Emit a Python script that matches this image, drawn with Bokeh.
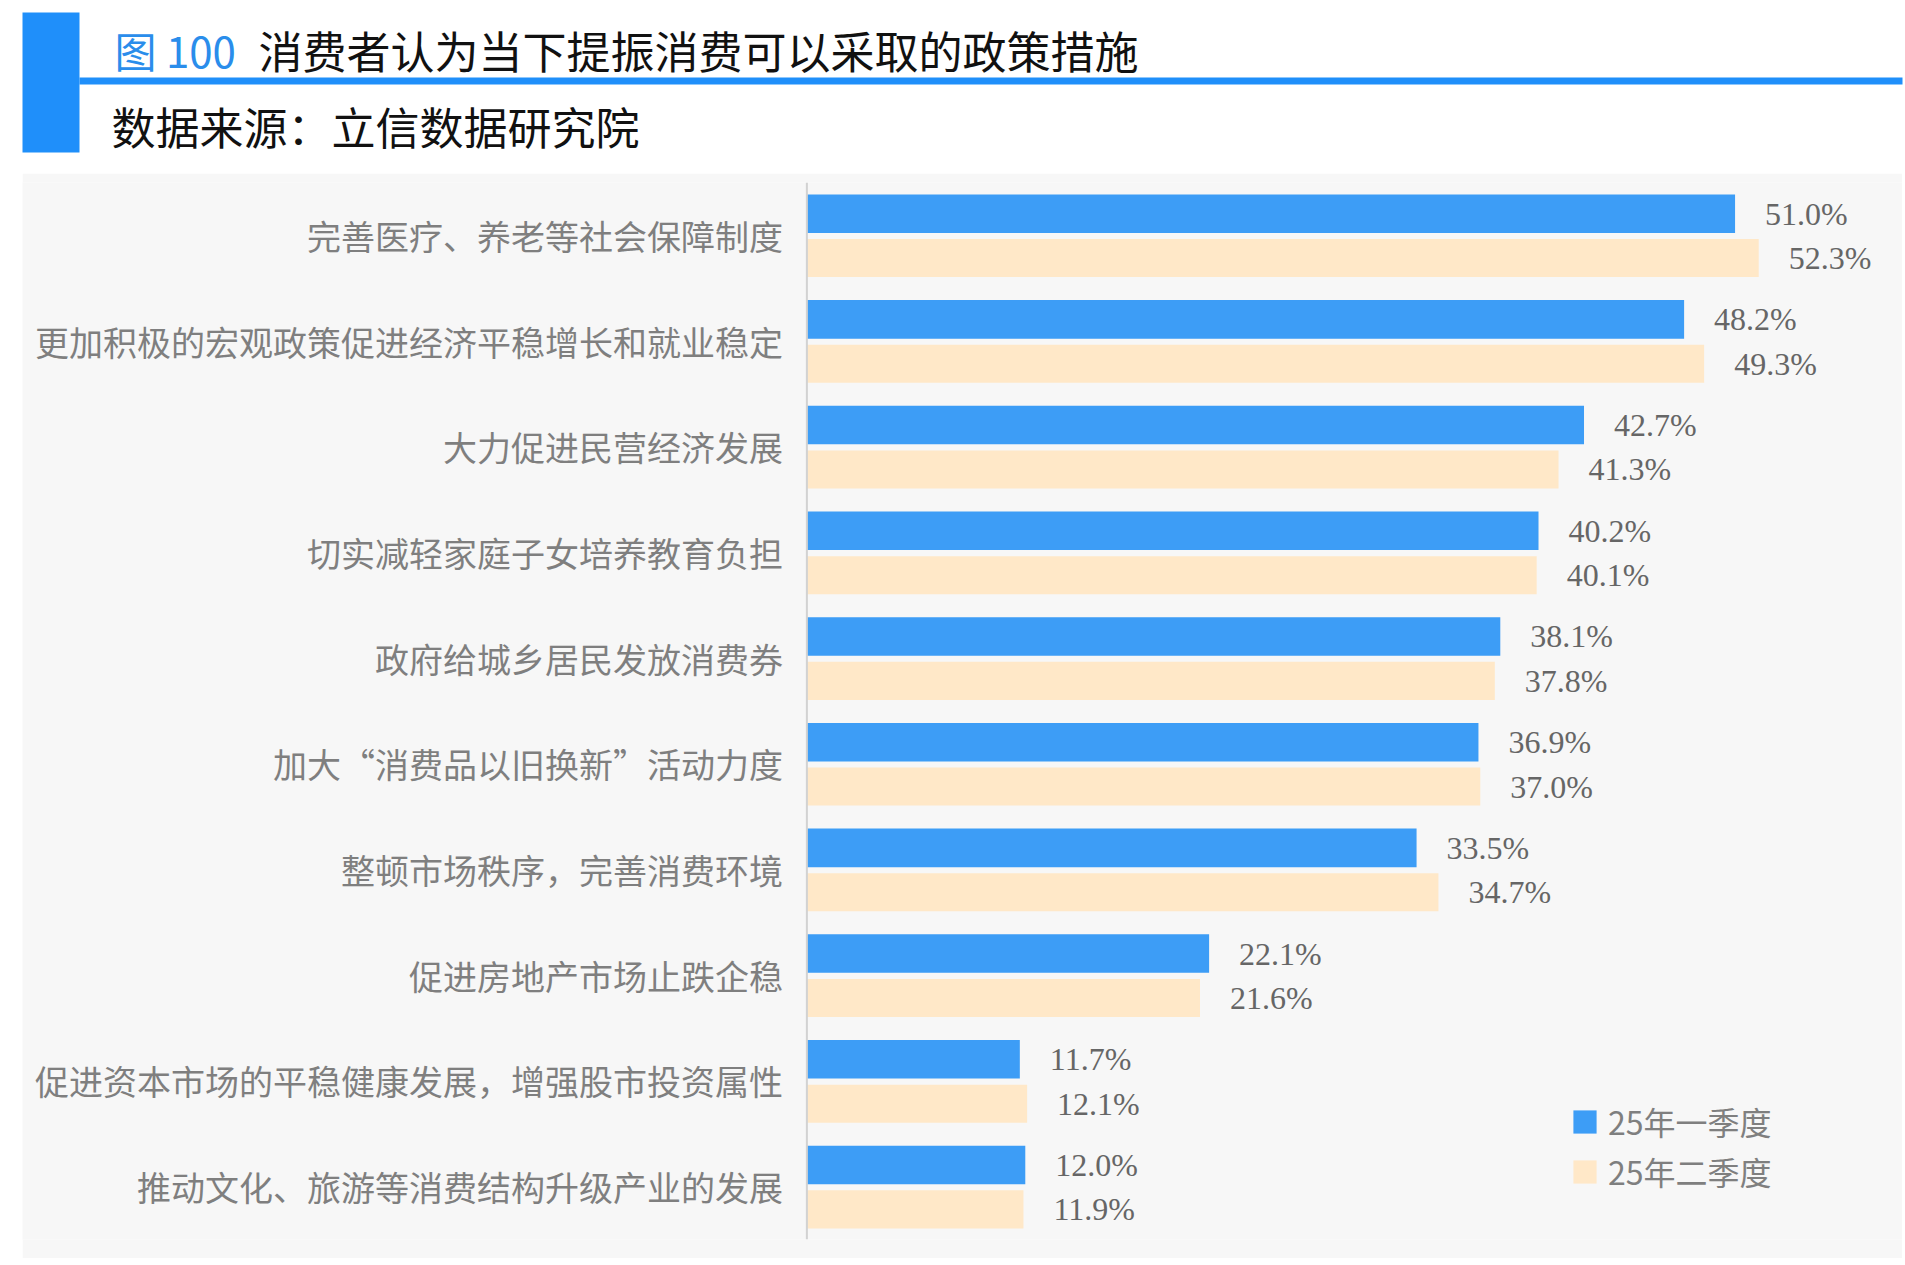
from bokeh.plotting import figure
from bokeh.layouts import column
from bokeh.models import ColumnDataSource, Range1d, FactorRange, Legend, LegendItem, Span
from bokeh.transform import dodge
from bokeh.core.properties import value
from bokeh.embed import file_html
from bokeh.resources import INLINE

# ---------------- data ----------------
categories = [
    "完善医疗、养老等社会保障制度",
    "更加积极的宏观政策促进经济平稳增长和就业稳定",
    "大力促进民营经济发展",
    "切实减轻家庭子女培养教育负担",
    "政府给城乡居民发放消费券",
    "加大“消费品以旧换新”活动力度",
    "整顿市场秩序，完善消费环境",
    "促进房地产市场止跌企稳",
    "促进资本市场的平稳健康发展，增强股市投资属性",
    "推动文化、旅游等消费结构升级产业的发展",
]
q1_values = [51.0, 48.2, 42.7, 40.2, 38.1, 36.9, 33.5, 22.1, 11.7, 12.0]
q2_values = [52.3, 49.3, 41.3, 40.1, 37.8, 37.0, 34.7, 21.6, 12.1, 11.9]
series_names = ["25年一季度", "25年二季度"]
title_prefix = "图 100"
title_text = "消费者认为当下提振消费可以采取的政策措施"
source_text = "数据来源：立信数据研究院"

CJK = "Noto Sans CJK SC"
NUM = "Liberation Serif"
BLUE = "#1F8FFA"
BAR_BLUE = "#3D9DF6"
BAR_BEIGE = "#FFE8C8"
BG = "#F7F7F7"

# ---------------- header ----------------
hdr = figure(width=1905, height=173, x_range=Range1d(0, 1905), y_range=Range1d(173, 0),
             output_backend="svg", toolbar_location=None,
             x_axis_location=None, y_axis_location=None, min_border=0)
hdr.outline_line_color = None
hdr.grid.visible = False
hdr.background_fill_color = "white"
hdr.border_fill_color = "white"
hdr.quad(left=[22], right=[79], top=[12], bottom=[152], color=BLUE, line_color=None)
hdr.quad(left=[79], right=[1902], top=[77], bottom=[84], color=BLUE, line_color=None)
hdr.text(x=[114], y=[49], text=[title_prefix], text_font=value(CJK), text_font_size="42px",
         text_color="#2A8DEB", text_baseline="middle")
hdr.text(x=[258], y=[49], text=[title_text], text_font=value(CJK), text_font_size="44px",
         text_color="#111111", text_baseline="middle")
hdr.text(x=[111], y=[125], text=[source_text], text_font=value(CJK), text_font_size="44px",
         text_color="#111111", text_baseline="middle")

# ---------------- main chart ----------------
src = ColumnDataSource(dict(
    cat=categories,
    q1=q1_values,
    q2=q2_values,
    l1=[f"{v:.1f}%" for v in q1_values],
    l2=[f"{v:.1f}%" for v in q2_values],
))

p = figure(width=1880, height=1085,
           y_range=FactorRange(factors=list(reversed(categories))),
           x_range=Range1d(-43.1, 60.2),
           output_backend="svg", toolbar_location=None,
           x_axis_location=None, y_axis_location=None)
p.margin = (0, 3, 7, 22)
p.min_border_left = 0
p.min_border_right = 0
p.min_border_top = 9
p.min_border_bottom = 19
p.background_fill_color = BG
p.border_fill_color = BG
p.outline_line_color = None
p.grid.visible = False

# category axis line at zero
p.add_layout(Span(location=0, dimension="height", line_color="#D2D2D2", line_width=2))

# category labels
p.text(x=0, y="cat", text="cat", x_offset=-24, text_align="right", text_baseline="middle",
       text_font=value(CJK), text_font_size="34px", text_color="#7F7F7F", source=src)

r1 = p.hbar(y=dodge("cat", 0.205, range=p.y_range), right="q1", left=0, height=0.365,
            fill_color=BAR_BLUE, line_color=None, source=src)
r2 = p.hbar(y=dodge("cat", -0.215, range=p.y_range), right="q2", left=0, height=0.36,
            fill_color=BAR_BEIGE, line_color=None, source=src)

p.text(x="q1", y=dodge("cat", 0.205, range=p.y_range), text="l1", x_offset=30,
       text_baseline="middle", text_font=value(NUM), text_font_size="32px",
       text_color="#666666", source=src)
p.text(x="q2", y=dodge("cat", -0.215, range=p.y_range), text="l2", x_offset=30,
       text_baseline="middle", text_font=value(NUM), text_font_size="32px",
       text_color="#666666", source=src)

legend = Legend(items=[LegendItem(label=series_names[0], renderers=[r1]),
                       LegendItem(label=series_names[1], renderers=[r2])],
                location=(1548, 45))
legend.background_fill_alpha = 0
legend.border_line_color = None
legend.padding = 0
legend.margin = 0
legend.glyph_width = 29
legend.glyph_height = 29
legend.label_height = 29
legend.spacing = 4
legend.label_standoff = 9
legend.label_text_font = CJK
legend.label_text_font_size = "32px"
legend.label_text_color = "#7F7F7F"
p.add_layout(legend)

layout = column(hdr, p, spacing=0)
open("out.html", "w").write(file_html(layout, INLINE))
